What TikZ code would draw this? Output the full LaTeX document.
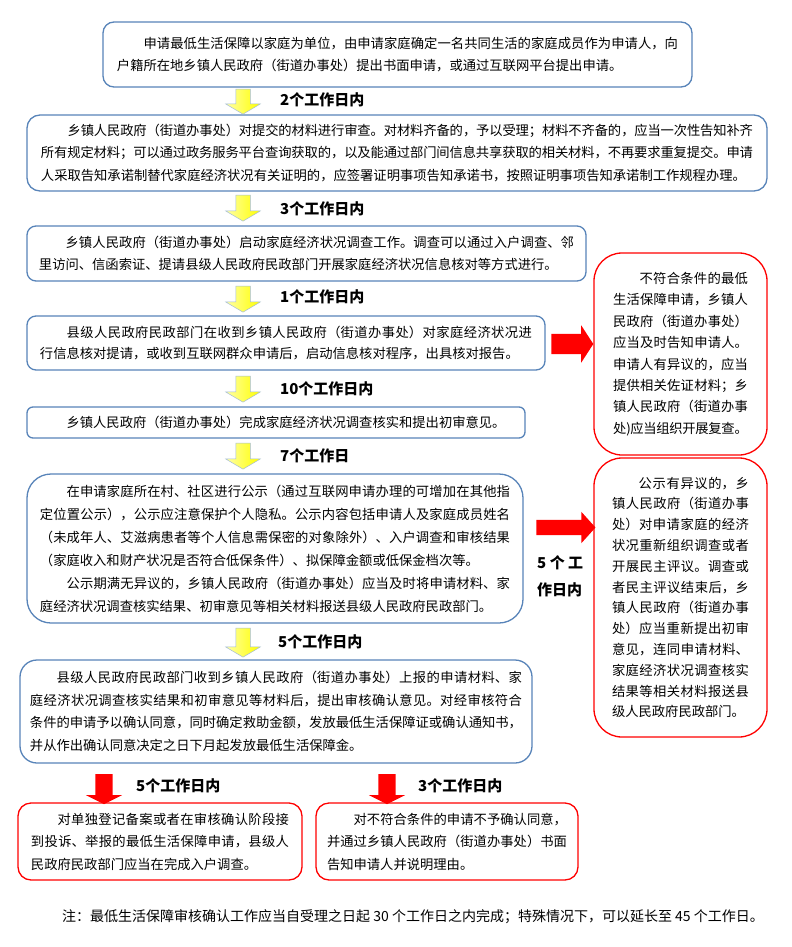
\documentclass[tikz,border=0pt]{standalone}
\usepackage{fontspec}
\setmainfont{Noto Sans CJK SC}
\usetikzlibrary{shapes.arrows}

% line breaking and justification for Chinese text
\XeTeXlinebreaklocale "zh"
\XeTeXlinebreakskip=0pt plus 2pt minus 0.8pt

\definecolor{boxblue}{RGB}{88,132,185}

\tikzset{
  stepbox/.style={draw=boxblue, line width=1.3bp, fill=white, inner sep=0pt,
    align=justify, font=\fontsize{13.3bp}{22.5bp}\selectfont},
  sidebox/.style={stepbox, draw=red},
  dayslabel/.style={anchor=west, inner sep=0pt, font=\fontsize{15bp}{27bp}\selectfont\bfseries},
  yarrow/.style={single arrow, draw=boxblue!55, line width=0.5bp,
    left color=yellow!35!white, right color=yellow, inner xsep=0pt, inner ysep=7bp, rotate=-90,
    minimum width=34bp, single arrow head extend=10bp, single arrow tip angle=119},
  rarrow/.style={single arrow, fill=red, draw=none, inner xsep=0pt}
}

\begin{document}
\begin{tikzpicture}[x=1bp, y=-1bp]
\fill[white] (0,0) rectangle (792,947);
\useasboundingbox (0,0) rectangle (792,947);

% --- main steps ---
\node[stepbox, rounded corners=11bp, minimum width=589bp, minimum height=65bp, text width=561bp] (b1) at (397.5,54.5)
{\noindent\hspace*{2em}申请最低生活保障以家庭为单位，由申请家庭确定一名共同生活的家庭成员作为申请人，向\linebreak
户籍所在地乡镇人民政府（街道办事处）提出书面申请，或通过互联网平台提出申请。};

\node[stepbox, rounded corners=13bp, minimum width=740bp, minimum height=76bp, text width=712bp] (b2) at (397,153)
{\noindent\hspace*{2em}乡镇人民政府（街道办事处）对提交的材料进行审查。对材料齐备的，予以受理；材料不齐备的，应当一次性告知补齐\linebreak
所有规定材料；可以通过政务服务平台查询获取的，以及能通过部门间信息共享获取的相关材料，不再要求重复提交。申请\linebreak
人采取告知承诺制替代家庭经济状况有关证明的，应签署证明事项告知承诺书，按照证明事项告知承诺制工作规程办理。};

\node[stepbox, rounded corners=9bp, minimum width=559bp, minimum height=55bp, text width=535bp] (b3) at (306.5,253.5)
{\noindent\hspace*{2em}乡镇人民政府（街道办事处）启动家庭经济状况调查工作。调查可以通过入户调查、邻\linebreak
里访问、信函索证、提请县级人民政府民政部门开展家庭经济状况信息核对等方式进行。};

\node[stepbox, rounded corners=9bp, minimum width=518bp, minimum height=54bp, text width=492bp,
  font=\fontsize{13.3bp}{21bp}\selectfont] (b4) at (286,343)
{\noindent\hspace*{2em}县级人民政府民政部门在收到乡镇人民政府（街道办事处）对家庭经济状况进\linebreak
行信息核对提请，或收到互联网群众申请后，启动信息核对程序，出具核对报告。};

\node[stepbox, align=left, rounded corners=6bp, minimum width=498bp, minimum height=31bp, text width=472bp] (b5) at (276,422.5)
{\noindent\hspace*{2em}乡镇人民政府（街道办事处）完成家庭经济状况调查核实和提出初审意见。};

\node[stepbox, rounded corners=24bp, minimum width=496bp, minimum height=149bp, text width=470bp,
  font=\fontsize{13.3bp}{23bp}\selectfont] (b6) at (275,548.5)
{\noindent\hspace*{2em}在申请家庭所在村、社区进行公示（通过互联网申请办理的可增加在其他指\linebreak
定位置公示），公示应注意保护个人隐私。公示内容包括申请人及家庭成员姓名\linebreak
（未成年人、艾滋病患者等个人信息需保密的对象除外）、入户调查和审核结果\linebreak
（家庭收入和财产状况是否符合低保条件）、拟保障金额或低保金档次等。\par
\noindent\hspace*{2em}公示期满无异议的，乡镇人民政府（街道办事处）应当及时将申请材料、家\linebreak
庭经济状况调查核实结果、初审意见等相关材料报送县级人民政府民政部门。};

\node[stepbox, rounded corners=17bp, minimum width=512bp, minimum height=103bp, text width=492bp] (b7) at (276,711.5)
{\noindent\hspace*{2em}县级人民政府民政部门收到乡镇人民政府（街道办事处）上报的申请材料、家\linebreak
庭经济状况调查核实结果和初审意见等材料后，提出审核确认意见。对经审核符合\linebreak
条件的申请予以确认同意，同时确定救助金额，发放最低生活保障证或确认通知书，\linebreak
并从作出确认同意决定之日下月起发放最低生活保障金。};

% --- side boxes ---
\node[sidebox, rounded corners=28bp, minimum width=173bp, minimum height=202bp, text width=135bp,
  font=\fontsize{13.3bp}{21.4bp}\selectfont] (s1) at (680.5,354)
{\noindent\hspace*{2em}不符合条件的最低\linebreak
生活保障申请，乡镇人\linebreak
民政府（街道办事处）\linebreak
应当及时告知申请人。\linebreak
申请人有异议的，应当\linebreak
提供相关佐证材料；乡\linebreak
镇人民政府（街道办事\linebreak
处)应当组织开展复查。};

\node[sidebox, rounded corners=28bp, minimum width=173bp, minimum height=279bp, text width=137bp,
  font=\fontsize{13.3bp}{20.8bp}\selectfont] (s2) at (680.5,597.5)
{\noindent\hspace*{2em}公示有异议的，乡\linebreak
镇人民政府（街道办事\linebreak
处）对申请家庭的经济\linebreak
状况重新组织调查或者\linebreak
开展民主评议。调查或\linebreak
者民主评议结束后，乡\linebreak
镇人民政府（街道办事\linebreak
处）应当重新提出初审\linebreak
意见，连同申请材料、\linebreak
家庭经济状况调查核实\linebreak
结果等相关材料报送县\linebreak
级人民政府民政部门。};

% --- results ---
\node[sidebox, rounded corners=13bp, minimum width=284bp, minimum height=77bp, text width=258bp] (s3) at (160,841.5)
{\noindent\hspace*{2em}对单独登记备案或者在审核确认阶段接\linebreak
到投诉、举报的最低生活保障申请，县级人\linebreak
民政府民政部门应当在完成入户调查。};

\node[sidebox, rounded corners=13bp, minimum width=262bp, minimum height=77bp, text width=240bp] (s4) at (447,841.5)
{\noindent\hspace*{2em}对不符合条件的申请不予确认同意，\linebreak
并通过乡镇人民政府（街道办事处）书面\linebreak
告知申请人并说明理由。};

% --- yellow arrows and time limits ---
\foreach \ya/\len/\ly/\lx/\days [count=\i] in {
    99.5/25/100/280/2个工作日内,
    206/26/209/280/3个工作日内,
    297/26/297/280/1个工作日内,
    387/26/389/280/10个工作日内,
    454/26/456/280/7个工作日,
    640.5/29/642/278/5个工作日内} {
  \node[yarrow, minimum height=\len bp] (a\i) at (243,\ya) {};
  \node[dayslabel] (d\i) at (\lx,\ly) {\days};
}

% --- red arrows ---
\node[rarrow, inner ysep=10bp, minimum height=42bp, minimum width=37bp, single arrow head extend=8.5bp,
  single arrow tip angle=114] (r1) at (569,344) {};
\node[rarrow, inner ysep=7.5bp, minimum height=59bp, minimum width=31bp, single arrow head extend=8bp,
  single arrow tip angle=96] (r2) at (562.5,527.5) {};
\node[dayslabel, align=left] (r2days) at (537,576.5) {5 个 工\\作日内};

\node[rarrow, rotate=-90, inner ysep=8.5bp, minimum height=30bp, minimum width=36bp, single arrow head extend=9.5bp,
  single arrow tip angle=127] (r3) at (104,787) {};
\node[dayslabel] (r3days) at (136,786) {5个工作日内};
\node[rarrow, rotate=-90, inner ysep=8.5bp, minimum height=30bp, minimum width=36bp, single arrow head extend=9.5bp,
  single arrow tip angle=127] (r4) at (387,787) {};
\node[dayslabel] (r4days) at (418,786) {3个工作日内};

% note
\node[inner sep=0pt, font=\fontsize{14bp}{16bp}\selectfont] (note) at (413,917)
{注：最低生活保障审核确认工作应当自受理之日起 30 个工作日之内完成；特殊情况下，可以延长至 45 个工作日。};
\end{tikzpicture}
\end{document}
